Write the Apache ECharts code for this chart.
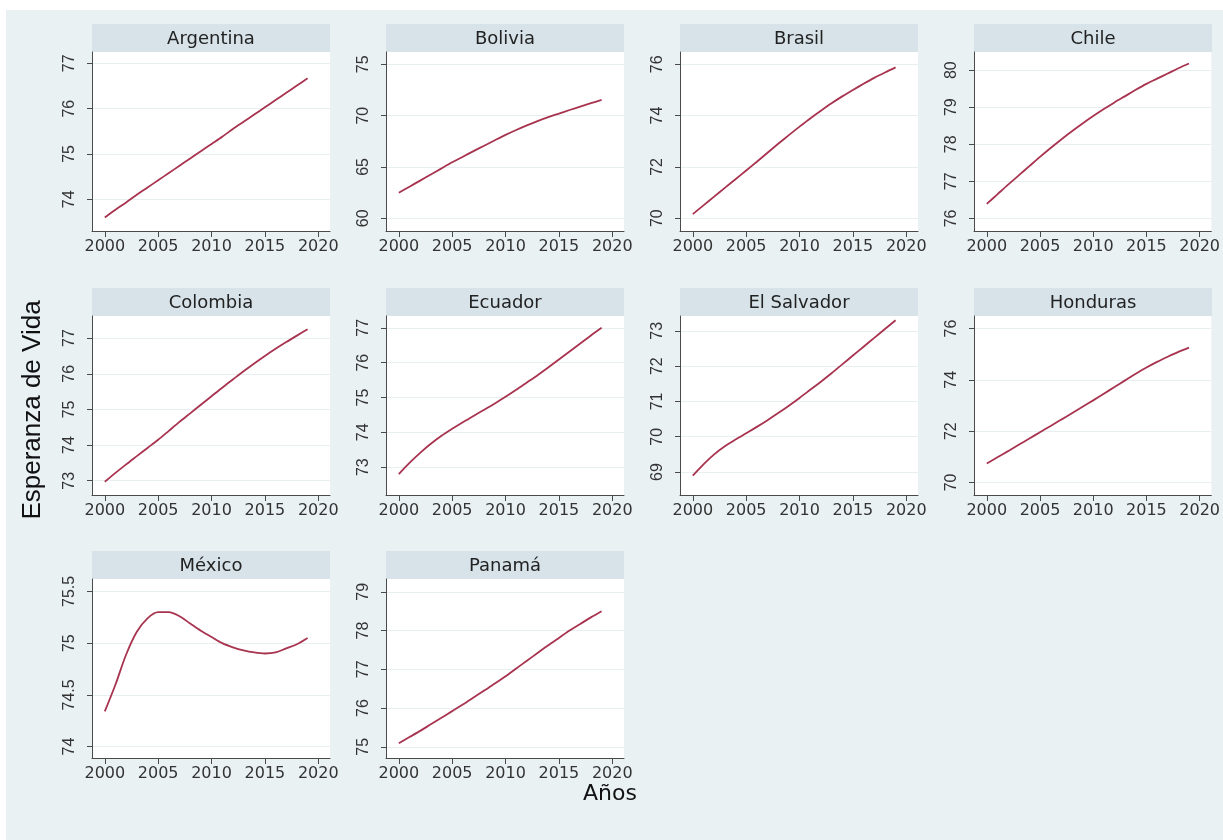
<!DOCTYPE html>
<html>
<head>
<meta charset="utf-8">
<title>Esperanza de Vida</title>
<script src="https://cdn.jsdelivr.net/npm/echarts@6/dist/echarts.min.js"></script>
<style>
  html, body { margin: 0; padding: 0; background: #ffffff; }
  #bg { position: absolute; left: 6px; top: 10px; width: 1217px; height: 830px; background: #e9f1f3; }
  #chart { position: absolute; left: 0; top: 0; width: 1223px; height: 840px; }
</style>
</head>
<body>
<div id="bg"></div>
<div id="chart"></div>
<script>
// Years on the horizontal axis and its tick labels
const years = [2000, 2001, 2002, 2003, 2004, 2005, 2006, 2007, 2008, 2009,
               2010, 2011, 2012, 2013, 2014, 2015, 2016, 2017, 2018, 2019];
const xTicks = [2000, 2005, 2010, 2015, 2020];

// Panels, in reading order
const countries = ['Argentina', 'Bolivia', 'Brasil', 'Chile', 'Colombia',
                   'Ecuador', 'El Salvador', 'Honduras', 'México', 'Panamá'];

// Life expectancy per country, 2000-2019
const argentina  = [73.60, 73.77, 73.93, 74.10, 74.26, 74.42, 74.58, 74.74, 74.90, 75.06,
                    75.22, 75.38, 75.55, 75.71, 75.87, 76.03, 76.19, 76.35, 76.51, 76.67];
const bolivia    = [62.49, 63.08, 63.67, 64.26, 64.86, 65.45, 66.00, 66.54, 67.07, 67.60,
                    68.12, 68.60, 69.05, 69.47, 69.85, 70.20, 70.55, 70.88, 71.21, 71.53];
const brasil     = [70.16, 70.50, 70.84, 71.18, 71.52, 71.86, 72.20, 72.55, 72.90, 73.24,
                    73.57, 73.89, 74.19, 74.48, 74.75, 75.00, 75.24, 75.47, 75.68, 75.88];
const chile      = [76.39, 76.65, 76.91, 77.16, 77.41, 77.66, 77.90, 78.13, 78.35, 78.56,
                    78.76, 78.95, 79.13, 79.30, 79.47, 79.63, 79.77, 79.91, 80.05, 80.18];
const colombia   = [72.97, 73.22, 73.46, 73.69, 73.92, 74.15, 74.40, 74.65, 74.89, 75.13,
                    75.37, 75.61, 75.84, 76.07, 76.29, 76.50, 76.70, 76.89, 77.07, 77.25];
const ecuador    = [72.80, 73.12, 73.41, 73.67, 73.90, 74.10, 74.29, 74.47, 74.65, 74.83,
                    75.02, 75.22, 75.43, 75.64, 75.86, 76.09, 76.32, 76.55, 76.78, 77.00];
const elSalvador = [68.90, 69.22, 69.50, 69.73, 69.92, 70.10, 70.28, 70.47, 70.67, 70.88,
                    71.10, 71.33, 71.56, 71.80, 72.05, 72.30, 72.55, 72.80, 73.05, 73.30];
const honduras   = [70.74, 70.98, 71.22, 71.47, 71.71, 71.96, 72.20, 72.45, 72.70, 72.95,
                    73.20, 73.46, 73.72, 73.98, 74.24, 74.48, 74.70, 74.90, 75.09, 75.26];
const mexico     = [74.34, 74.60, 74.89, 75.11, 75.24, 75.30, 75.30, 75.26, 75.19, 75.12,
                    75.06, 75.00, 74.96, 74.93, 74.91, 74.90, 74.91, 74.95, 74.99, 75.05];
const panama     = [75.09, 75.25, 75.41, 75.58, 75.75, 75.92, 76.09, 76.27, 76.45, 76.63,
                    76.82, 77.02, 77.22, 77.42, 77.62, 77.81, 78.00, 78.17, 78.34, 78.50];

const seriesValues = [argentina, bolivia, brasil, chile, colombia,
                      ecuador, elSalvador, honduras, mexico, panama];

// Vertical tick labels and axis ranges of each panel
const yTicks = [
  [74, 75, 76, 77],
  [60, 65, 70, 75],
  [70, 72, 74, 76],
  [76, 77, 78, 79, 80],
  [73, 74, 75, 76, 77],
  [73, 74, 75, 76, 77],
  [69, 70, 71, 72, 73],
  [70, 72, 74, 76],
  [74, 74.5, 75, 75.5],
  [75, 76, 77, 78, 79]
];
const yRanges = [
  [73.30, 77.25],
  [58.76, 76.20],
  [69.50, 76.48],
  [75.66, 80.49],
  [72.60, 77.62],
  [72.20, 77.34],
  [68.35, 73.42],
  [69.51, 76.49],
  [73.89, 75.62],
  [74.71, 79.33]
];
const xRange = [1998.8, 2021.1];

// Panel geometry
const COLS = 4;
const plotLeft0 = 92, colStep = 294, plotW = 238;
const plotTop0 = 52, rowStep = 263.5, plotH = 179;
const stripH = 28;

const lineColor = '#a8334f';
const axisColor = '#4a4a4a';
const labelColor = '#333333';

const grids = [], xAxes = [], yAxes = [], series = [], graphics = [];

countries.forEach((name, i) => {
  const col = i % COLS, row = Math.floor(i / COLS);
  const left = plotLeft0 + col * colStep;
  const top = Math.round(plotTop0 + row * rowStep);

  grids.push({
    left: left, top: top, width: plotW, height: plotH,
    show: true, backgroundColor: '#ffffff', borderWidth: 0
  });

  xAxes.push({
    type: 'value', gridIndex: i, min: xRange[0], max: xRange[1],
    axisLine: { show: true, onZero: false, lineStyle: { color: axisColor, width: 1 } },
    axisTick: { show: true, length: 6, customValues: xTicks, lineStyle: { color: axisColor } },
    axisLabel: {
      customValues: xTicks, margin: 8, color: labelColor,
      fontFamily: 'DejaVu Sans', fontSize: 16,
      formatter: v => String(v)
    },
    splitLine: { show: false }
  });

  yAxes.push({
    type: 'value', gridIndex: i, min: yRanges[i][0], max: yRanges[i][1],
    axisLine: { show: true, onZero: false, lineStyle: { color: axisColor, width: 1 } },
    axisTick: { show: true, length: 5, customValues: yTicks[i], lineStyle: { color: axisColor } },
    axisLabel: {
      customValues: yTicks[i], rotate: 90, margin: 14, color: labelColor,
      fontFamily: 'Liberation Sans', fontSize: 16,
      formatter: v => String(v)
    },
    splitLine: { show: true, lineStyle: { color: '#e8eff1', width: 1 } }
  });

  series.push({
    type: 'line', xAxisIndex: i, yAxisIndex: i,
    data: years.map((y, k) => [y, seriesValues[i][k]]),
    showSymbol: false, smooth: 0.3,
    lineStyle: { color: lineColor, width: 1.8 }
  });

  // Panel header strip
  graphics.push({
    type: 'rect', silent: true,
    shape: { x: left, y: top - stripH, width: plotW, height: stripH },
    style: { fill: '#d7e3e9' }
  });
  graphics.push({
    type: 'text', silent: true,
    x: left + plotW / 2, y: top - stripH / 2 + 1,
    style: {
      text: name, fill: '#222222', font: '18px "DejaVu Sans"',
      textAlign: 'center', textVerticalAlign: 'middle'
    }
  });
});

// Shared axis titles
graphics.push({
  type: 'text', silent: true, x: 33, y: 410, rotation: Math.PI / 2,
  style: {
    text: 'Esperanza de Vida', fill: '#111111', font: '26px "Liberation Sans"',
    textAlign: 'center', textVerticalAlign: 'middle'
  }
});
graphics.push({
  type: 'text', silent: true, x: 610, y: 794,
  style: {
    text: 'Años', fill: '#111111', font: '22px "DejaVu Sans"',
    textAlign: 'center', textVerticalAlign: 'middle'
  }
});

const chart = echarts.init(document.getElementById('chart'), null, { renderer: 'canvas' });
chart.setOption({
  animation: false,
  backgroundColor: 'transparent',
  grid: grids,
  xAxis: xAxes,
  yAxis: yAxes,
  series: series,
  graphic: { elements: graphics }
});
</script>
</body>
</html>
